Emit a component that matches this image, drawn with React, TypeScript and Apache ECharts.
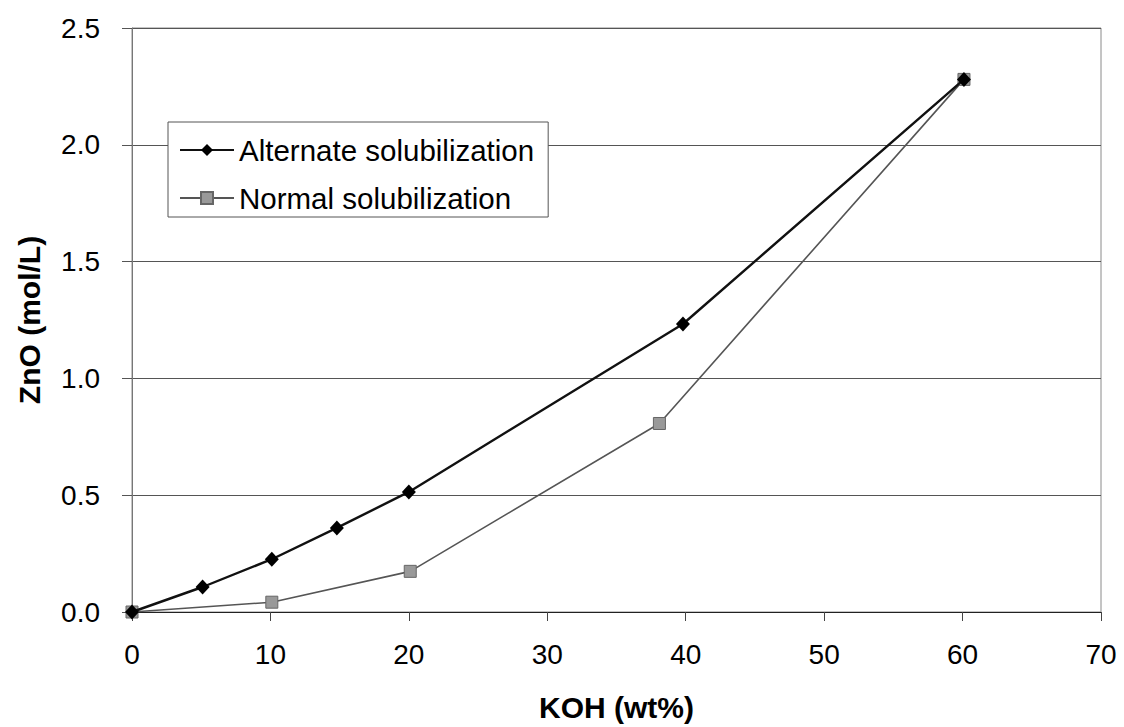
import React, { useEffect, useRef } from "react";
import * as echarts from "echarts";

const seriesNames = ["Alternate solubilization", "Normal solubilization"];
const alternateKOH = [0, 5.1, 10.1, 14.8, 20.0, 39.8, 60.1];
const alternateZnO = [0, 0.107, 0.226, 0.36, 0.514, 1.233, 2.28];
const normalKOH = [0, 10.1, 20.1, 38.1, 60.1];
const normalZnO = [0, 0.042, 0.174, 0.807, 2.28];
const xTitle = "KOH (wt%)";
const yTitle = "ZnO (mol/L)";

const FONT = "'Liberation Sans', Arial, sans-serif";

export default function App() {
  const ref = useRef<HTMLDivElement>(null);
  useEffect(() => {
    if (!ref.current) return;
    const chart = echarts.init(ref.current, null, { renderer: "svg" });
    chart.setOption({
      animation: false,
      backgroundColor: "#fff",
      textStyle: { fontFamily: FONT, color: "#000" },
      grid: {
        left: 132,
        right: 23,
        top: 28,
        bottom: 110,
        show: true,
        borderColor: "#8a8a8a",
        borderWidth: 1,
      },
      legend: {
        left: 168,
        top: 122,
        orient: "vertical",
        backgroundColor: "#fff",
        borderColor: "#555",
        borderWidth: 1,
        padding: [13, 14, 4, 11],
        itemWidth: 54,
        itemHeight: 15,
        itemGap: 18,
        textStyle: { fontFamily: FONT, fontSize: 29.5, color: "#000", lineHeight: 30 },
        data: seriesNames,
      },
      xAxis: {
        type: "value",
        min: 0,
        max: 70,
        interval: 10,
        name: xTitle,
        nameLocation: "middle",
        nameGap: 80,
        nameTextStyle: { fontFamily: FONT, fontSize: 30, fontWeight: "bold", color: "#000" },
        axisLine: { show: true, lineStyle: { color: "#222", width: 1 } },
        axisTick: { show: true, length: 9, lineStyle: { color: "#444" } },
        axisLabel: { fontFamily: FONT, fontSize: 28, color: "#000", margin: 28 },
        splitLine: { show: false },
      },
      yAxis: {
        type: "value",
        min: 0,
        max: 2.5,
        interval: 0.5,
        name: yTitle,
        nameLocation: "middle",
        nameGap: 88,
        nameTextStyle: { fontFamily: FONT, fontSize: 30, fontWeight: "bold", color: "#000" },
        axisLine: { show: true, lineStyle: { color: "#777", width: 1 } },
        axisTick: { show: true, length: 10, lineStyle: { color: "#555" } },
        axisLabel: {
          fontFamily: FONT,
          fontSize: 28,
          color: "#000",
          margin: 32,
          formatter: (v: number) => v.toFixed(1),
        },
        splitLine: { show: true, lineStyle: { color: "#555", width: 1 } },
      },
      series: [
        {
          name: seriesNames[0],
          type: "line",
          data: alternateKOH.map((x, i) => [x, alternateZnO[i]]),
          symbol: "diamond",
          symbolSize: [14, 15],
          lineStyle: { color: "#111", width: 2.4 },
          itemStyle: { color: "#000" },
          z: 3,
        },
        {
          name: seriesNames[1],
          type: "line",
          data: normalKOH.map((x, i) => [x, normalZnO[i]]),
          symbol: "rect",
          symbolSize: 12,
          lineStyle: { color: "#555", width: 1.6 },
          itemStyle: { color: "#999", borderColor: "#666", borderWidth: 1 },
          z: 2,
        },
      ],
    });
    return () => chart.dispose();
  }, []);
  return (
    <div
      ref={ref}
      style={{ position: "absolute", left: 0, top: 0, width: 1124, height: 727 }}
    />
  );
}
